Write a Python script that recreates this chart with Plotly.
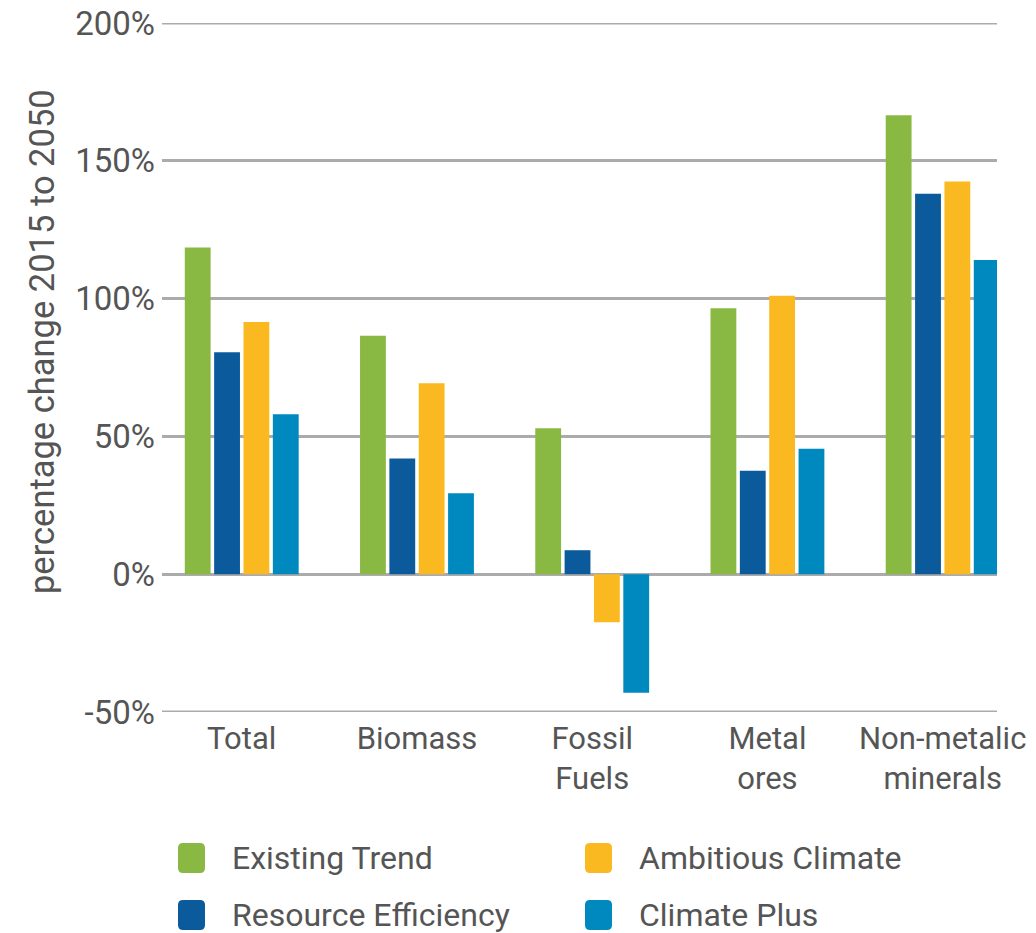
import plotly.graph_objects as go

categories = ["Total", "Biomass", "Fossil<br>Fuels", "Metal<br>ores", "Non-metalic<br>minerals"]
series_names = ["Existing Trend", "Resource Efficiency", "Ambitious Climate", "Climate Plus"]
existing_trend = [118.5, 86.5, 53, 96.5, 166.5]
resource_efficiency = [80.5, 42, 8.7, 37.5, 138]
ambitious_climate = [91.5, 69.3, -17.4, 101, 142.5]
climate_plus = [58, 29.4, -43, 45.5, 114]
colors = ["#8AB943", "#0A5A9C", "#FBB921", "#0089BE"]
y_tickvals = [-50, 0, 50, 100, 150, 200]
y_ticktext = ["-50%", "0%", "50%", "100%", "150%", "200%"]

W, H = 1036, 933
L, R, T, B = 162, 39, 23, 221
PW, PH = W - L - R, H - T - B
TXT = "#555555"
FONT = "Roboto"
GRID = "#ababab"

fig = go.Figure()
for name, vals, col in zip(series_names,
                           [existing_trend, resource_efficiency, ambitious_climate, climate_plus],
                           colors):
    fig.add_trace(go.Bar(x=categories, y=vals, name=name, marker=dict(color=col, line=dict(width=0)),
                         showlegend=False))


def px2paper(x, y):
    return (x - L) / PW, (H - B - y) / PH


def rounded_rect(x0, y0, x1, y1, r):
    ax0, ay0 = px2paper(x0, y0)
    ax1, ay1 = px2paper(x1, y1)
    rx = r / PW
    ry = r / PH
    return (f"M {ax0+rx},{ay0} L {ax1-rx},{ay0} Q {ax1},{ay0} {ax1},{ay0-ry} "
            f"L {ax1},{ay1+ry} Q {ax1},{ay1} {ax1-rx},{ay1} "
            f"L {ax0+rx},{ay1} Q {ax0},{ay1} {ax0},{ay1+ry} "
            f"L {ax0},{ay0-ry} Q {ax0},{ay0} {ax0+rx},{ay0} Z")


shapes = []
# edge gridlines (top and bottom of the value range)
for yv in (y_tickvals[0], y_tickvals[-1]):
    shapes.append(dict(type="line", xref="paper", yref="y", x0=0, x1=1, y0=yv, y1=yv,
                       line=dict(color=GRID, width=3), layer="below"))

annotations = []
legend_pos = [(178, 858), (178, 915), (585, 858), (585, 915)]
for (lx, ly), name, col in zip(legend_pos, series_names, colors):
    shapes.append(dict(type="path", xref="paper", yref="paper",
                       path=rounded_rect(lx, ly - 15, lx + 27, ly + 15, 5),
                       fillcolor=col, line=dict(width=0)))
    tx, ty = px2paper(lx + 52, ly)
    annotations.append(dict(x=tx, y=ty, xref="paper", yref="paper", text=name, showarrow=False,
                            xanchor="left", yanchor="middle",
                            font=dict(family=FONT, size=32, color=TXT)))

tx, ty = px2paper(42, 342)
annotations.append(dict(x=tx, y=ty, xref="paper", yref="paper", text="percentage change 2015 to 2050",
                        showarrow=False, textangle=-90, xanchor="center", yanchor="middle",
                        font=dict(family=FONT, size=34.5, color=TXT)))

fig.update_layout(
    width=W, height=H,
    margin=dict(l=L, r=R, t=T, b=B, pad=0),
    paper_bgcolor="white", plot_bgcolor="white",
    barmode="group", bargap=0.33, bargroupgap=0.12,
    font=dict(family=FONT, color=TXT),
    shapes=shapes, annotations=annotations,
    showlegend=False,
)
fig.update_xaxes(range=[-0.455, 4.31], showgrid=False, showline=False, ticks="", automargin=False,
                 ticklabelstandoff=5,
                 tickfont=dict(family=FONT, size=31, color=TXT))
fig.update_yaxes(range=[-50, 200], tickvals=y_tickvals, ticktext=y_ticktext, automargin=False,
                 showgrid=True, gridcolor=GRID, gridwidth=3,
                 zeroline=True, zerolinecolor=GRID, zerolinewidth=3,
                 showline=False, ticks="", ticklabelstandoff=6,
                 tickfont=dict(family=FONT, size=33, color=TXT))

fig.write_html("out.html", config={"displayModeBar": False},
               post_script="document.body.style.margin='0px';document.body.style.overflow='hidden';")
